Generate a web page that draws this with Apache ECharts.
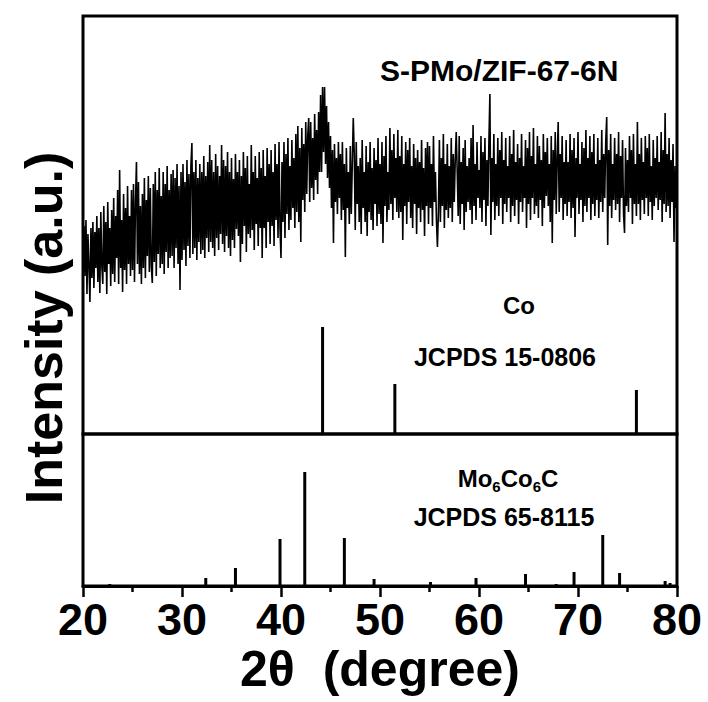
<!DOCTYPE html>
<html><head><meta charset="utf-8">
<script src="https://cdn.jsdelivr.net/npm/echarts@6/dist/echarts.min.js"></script>
<style>html,body{margin:0;padding:0;background:#fff}#c{width:708px;height:702px}</style>
</head><body><div id="c"></div>
<script>
// ---- data ----
const xTicks = [20, 30, 40, 50, 60, 70, 80];
const xrdStart = 20, xrdStep = 0.1;  // sampling grid of the measured pattern
const xrdIntensity = [
150,208,158,214,140,200,168,132,206,156,
212,146,202,166,218,152,206,141,222,168,
150,228,162,212,140,232,170,206,148,224,
160,236,152,218,176,244,150,264,166,214,
142,240,164,226,150,248,170,218,158,244,
164,250,152,232,272,170,252,160,228,150,
240,166,256,156,234,178,258,162,246,168,
151,250,172,262,158,244,180,266,166,238,
170,262,160,250,182,268,166,244,176,260,
178,264,166,256,186,270,170,248,144,262,
174,270,184,252,168,274,188,260,176,268,
291,180,262,186,274,174,256,192,270,180,
262,184,278,176,258,196,272,182,289,192,
274,186,262,178,280,196,268,184,258,200,
289,190,274,182,268,198,282,186,262,178,
276,194,255,186,280,205,262,198,274,172,
258,190,282,208,266,182,278,200,250,196,
289,204,262,184,278,210,256,188,282,206,
266,176,284,206,258,186,286,212,270,190,
284,208,262,188,290,214,270,196,292,206,
176,272,212,292,196,280,220,296,204,268,
214,294,226,276,206,300,222,308,212,286,
192,306,234,290,222,312,240,298,316,232,
312,246,296,234,320,254,304,240,322,262,
339,262,347,282,347,270,328,256,312,246,
298,226,284,191,290,232,276,220,292,236,
280,214,292,224,270,177,286,226,262,210,
288,220,270,316,280,204,292,230,268,212,
276,200,294,226,262,212,288,198,272,222,
292,214,266,204,286,230,274,208,296,220,
270,210,292,191,278,228,298,212,262,224,
306,230,284,214,300,236,276,222,304,216,
278,222,298,194,270,228,292,210,284,232,
296,216,268,206,290,230,276,200,284,226,
272,212,294,224,266,198,286,228,292,210,
288,226,270,208,298,232,262,214,187,222,
294,212,276,228,300,206,270,224,290,216,
268,226,296,212,280,232,274,302,262,218,
298,210,272,230,286,204,294,222,268,232,
276,224,296,210,309,228,270,214,292,236,
264,226,298,212,282,234,296,208,274,228,
292,340,199,276,232,300,214,270,228,296,
218,284,236,302,210,274,230,296,222,268,
236,298,212,280,228,304,218,272,234,290,
210,276,232,300,222,268,236,294,206,286,
230,302,214,278,236,306,220,270,228,298,
216,288,234,274,208,300,226,282,238,296,
228,270,212,298,191,284,234,302,220,276,
312,222,280,236,298,214,272,230,294,218,
272,232,300,216,284,226,296,197,276,236,
302,220,270,234,292,212,286,228,304,222,
276,236,298,214,282,230,300,218,270,234,
296,216,274,232,304,222,280,236,292,317,
189,284,228,300,216,270,234,296,224,280,
230,302,212,278,236,294,220,201,286,228,
274,222,298,236,284,210,300,230,270,218,
312,230,280,214,296,234,272,220,298,236,
286,218,300,232,268,214,294,228,276,236,
298,224,272,234,302,212,284,230,321,222,
280,228,296,216,274,232,290,192,268,226,
240
];
const coAngles  = [44.2, 51.5, 75.9];
const coHeights = [107, 50, 44];
const mcAngles  = [22.7, 32.4, 35.4, 39.9, 42.4, 46.4, 49.4, 55.1, 59.7, 64.7, 67.8, 69.6, 72.5, 74.2, 78.8, 79.3];
const mcHeights = [2, 8, 18, 47, 114, 48, 7, 4, 8, 12, 2, 14, 51, 13, 5, 3];
const labels = {
  sample: 'S-PMo/ZIF-67-6N',
  co: 'Co', coCard: 'JCPDS 15-0806',
  mcCard: 'JCPDS 65-8115',
  xName: '2θ  (degree)', yName: 'Intensity (a.u.)'
};

// ---- build ----
const FONT = '"Liberation Sans", Arial, Helvetica, sans-serif';
const xrdData = xrdIntensity.map((v, i) => [+(xrdStart + i * xrdStep).toFixed(2), v]);
const coData = coAngles.map((a, i) => [a, coHeights[i]]);
const mcData = mcAngles.map((a, i) => [a, mcHeights[i]]);

const chart = echarts.init(document.getElementById('c'), null, {renderer: 'svg'});
chart.setOption({
  animation: false,
  backgroundColor: '#fff',
  grid: [
    {left: 83, right: 31, top: 16, height: 418, show: true, borderColor: '#000', borderWidth: 3,
     backgroundColor: 'transparent', containLabel: false, outerBoundsMode: 'none'},
    {left: 83, right: 31, top: 434, height: 152, show: true, borderColor: '#000', borderWidth: 3,
     backgroundColor: 'transparent', containLabel: false, outerBoundsMode: 'none'}
  ],
  xAxis: [
    {gridIndex: 0, type: 'value', min: 20, max: 80, interval: 10, show: false},
    {gridIndex: 1, type: 'value', min: 20, max: 80, interval: 10,
     axisLine: {show: true, lineStyle: {color: '#000', width: 3}},
     axisTick: {show: true, inside: false, length: 11, lineStyle: {color: '#000', width: 2.5}},
     minorTick: {show: true, splitNumber: 2, length: 6, lineStyle: {color: '#000', width: 2.5}},
     splitLine: {show: false},
     axisLabel: {color: '#000', fontSize: 45, fontWeight: 'bold', fontFamily: FONT, margin: 11,
                 customValues: xTicks, formatter: v => String(v)},
     name: labels.xName, nameLocation: 'middle', nameGap: 58,
     nameTextStyle: {color: '#000', fontSize: 50, fontWeight: 'bold', fontFamily: FONT}}
  ],
  yAxis: [
    {gridIndex: 0, type: 'value', min: 0, max: 418, show: false},
    {gridIndex: 1, type: 'value', min: 0, max: 152, show: false}
  ],
  series: [
    {type: 'line', xAxisIndex: 0, yAxisIndex: 0, data: xrdData, showSymbol: false, symbol: 'none',
     lineStyle: {color: '#000', width: 1.6, join: 'miter'}, sampling: null, clip: true},
    {type: 'bar', xAxisIndex: 0, yAxisIndex: 0, data: coData, barWidth: 3, itemStyle: {color: '#000'}},
    {type: 'bar', xAxisIndex: 1, yAxisIndex: 1, data: mcData, barWidth: 3, itemStyle: {color: '#000'}}
  ],
  graphic: [
    {type: 'text', left: 380, top: 55, style: {text: labels.sample, font: 'bold 30px ' + FONT, fill: '#000'}},
    {type: 'text', x: 519, y: 305, style: {text: labels.co, font: 'bold 24px ' + FONT, fill: '#000', align: 'center', verticalAlign: 'middle'}},
    {type: 'text', x: 505, y: 357, style: {text: labels.coCard, font: 'bold 25px ' + FONT, fill: '#000', align: 'center', verticalAlign: 'middle'}},
    {type: 'text', x: 508, y: 478, style: {
      text: '{a|Mo}{s|6}{a|Co}{s|6}{a|C}', align: 'center', verticalAlign: 'middle',
      rich: {a: {font: 'bold 24px ' + FONT, fill: '#000', lineHeight: 32},
             s: {font: 'bold 15px ' + FONT, fill: '#000', lineHeight: 12, verticalAlign: 'bottom'}}}},
    {type: 'text', x: 504, y: 517, style: {text: labels.mcCard, font: 'bold 25px ' + FONT, fill: '#000', align: 'center', verticalAlign: 'middle'}},
    {type: 'text', x: 44, y: 328, rotation: Math.PI / 2, style: {text: labels.yName, font: 'bold 52px ' + FONT, fill: '#000', align: 'center', verticalAlign: 'middle'}}
  ]
});
</script>
</body></html>
